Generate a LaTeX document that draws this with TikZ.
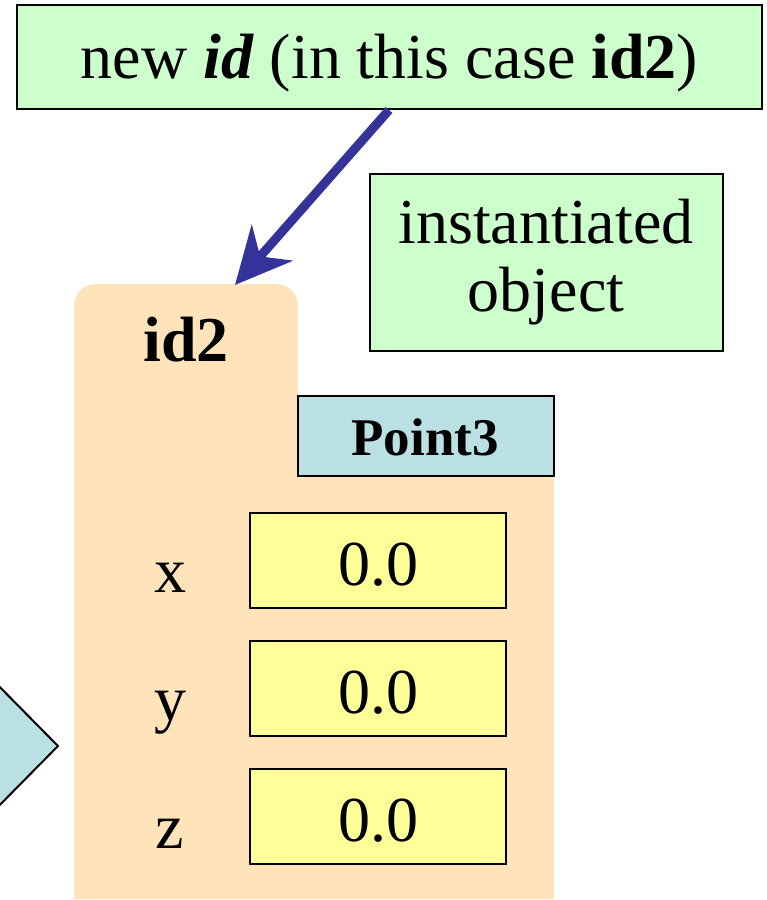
\documentclass[tikz,border=0pt]{standalone}
\usepackage{fontspec}
\setmainfont{Liberation Serif}
\usetikzlibrary{arrows.meta}

\definecolor{notegreen}{HTML}{CCFFCC}
\definecolor{classblue}{HTML}{BBE0E3}
\definecolor{fieldyellow}{HTML}{FFFF99}
\definecolor{objorange}{HTML}{FFE4BB}
\definecolor{arrowblue}{HTML}{333399}

\tikzset{
  boxline/.style={draw=black, line width=2pt},
  notebox/.style={boxline, fill=notegreen, rectangle, inner sep=0pt},
  classbox/.style={boxline, fill=classblue, rectangle, inner sep=0pt},
  fieldbox/.style={boxline, fill=fieldyellow, rectangle, inner sep=0pt,
    minimum width=256pt, minimum height=95pt},
  bigtxt/.style={inner sep=0pt, anchor=base, font=\fontsize{64}{68}\selectfont},
  classtxt/.style={inner sep=0pt, anchor=base, font=\fontsize{53}{60}\selectfont\bfseries},
  pointer/.style={arrowblue, line width=9pt,
    -{Stealth[length=56pt, width=54pt, inset=18pt]}},
}

\begin{document}
\begin{tikzpicture}[x=1pt, y=-1pt]
\useasboundingbox (0,0) rectangle (767,900);

% object body: rounded upper tab and wide lower part
\fill[objorange, rounded corners=22pt] (74,284) rectangle (298,700);
\fill[objorange] (74,396) rectangle (554,899);

% partly visible shape on the left edge
\filldraw[fill=classblue, draw=black, line width=2pt]
  (-20,667) -- (58,746) -- (-20,825) -- cycle;

% note boxes
\node[notebox, minimum width=745pt, minimum height=104pt] (newid) at (389.5,57) {};
\node[bigtxt] (newidtext) at (389.5,78)
  {new \textbf{\textit{id}} (in this case \textbf{id2})};

\node[notebox, minimum width=353pt, minimum height=177pt] (inst) at (546,262) {};
\node[bigtxt] (insttext1) at (546,243) {instantiated};
\node[bigtxt] (insttext2) at (546,311) {object};

% object name and class
\node[bigtxt, font=\fontsize{64}{68}\selectfont\bfseries] (objname) at (186,361) {id2};
\node[classbox, minimum width=256pt, minimum height=80pt] (cls) at (426,436) {};
\node[classtxt] (clstext) at (425,455) {Point3};

% fields
\node[fieldbox] (fx) at (378,560.5) {};
\node[fieldbox] (fy) at (378,688.5) {};
\node[fieldbox] (fz) at (378,816.5) {};
\node[bigtxt] (vx) at (378,585) {0.0};
\node[bigtxt] (vy) at (378,713) {0.0};
\node[bigtxt] (vz) at (378,841) {0.0};
\node[bigtxt] (lx) at (170,592) {x};
\node[bigtxt] (ly) at (170,720) {y};
\node[bigtxt] (lz) at (170,848) {z};

% pointer from the note to the new object
\coordinate (objtop) at (235,285);
\draw[pointer] (newid.south -| 389,0) -- (objtop);
\end{tikzpicture}
\end{document}
